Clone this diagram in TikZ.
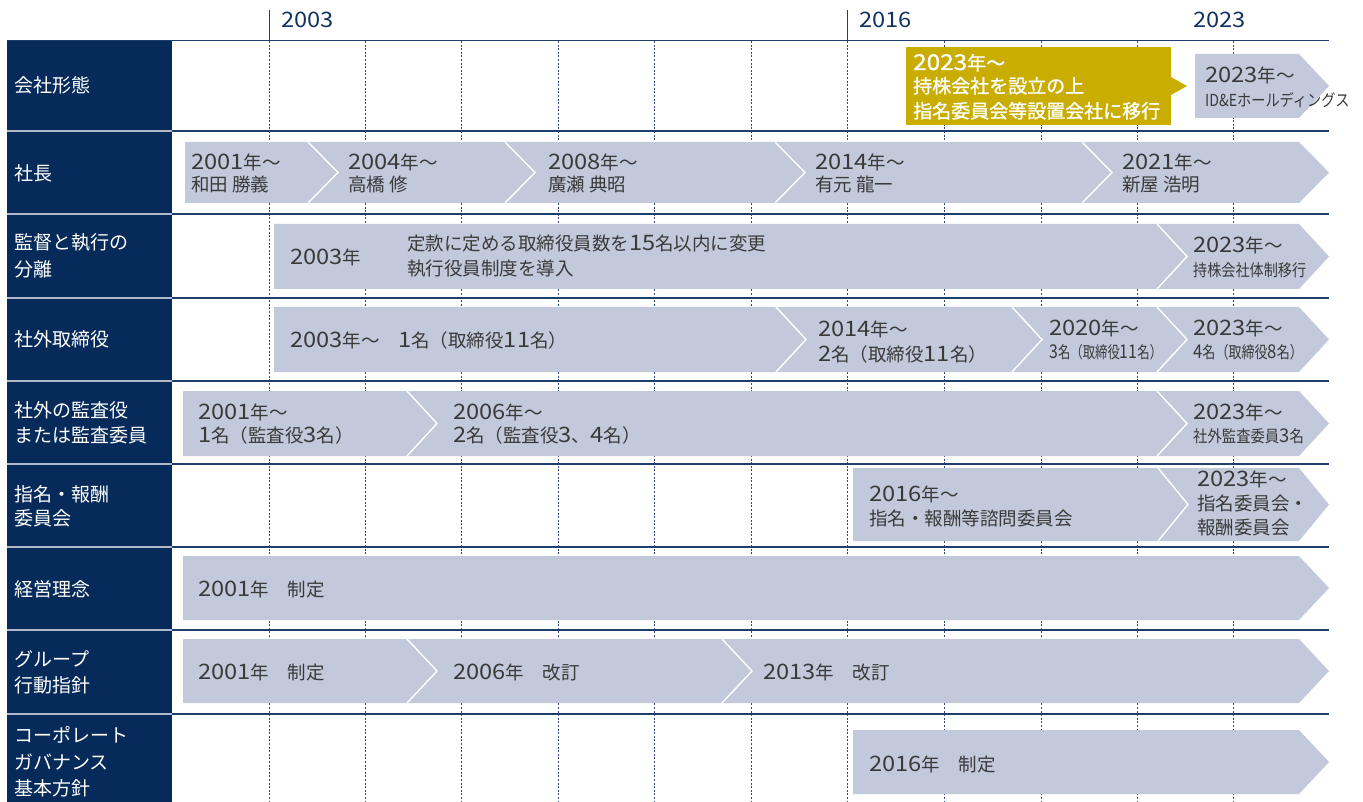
\documentclass[tikz,border=0pt]{standalone}
\usepackage{fontspec}
\setmainfont{Noto Sans CJK JP}
\newfontfamily\yelfont[FakeBold=1.2]{Noto Sans CJK JP}
\usepackage{graphicx}
\definecolor{navy}{RGB}{6,43,90}
\definecolor{gridc}{RGB}{30,62,110}
\definecolor{dashc}{RGB}{45,75,125}
\definecolor{sepc}{RGB}{175,186,204}
\definecolor{chevc}{RGB}{193,201,219}
\definecolor{yelc}{RGB}{201,173,0}
\definecolor{tgray}{RGB}{58,58,58}
\definecolor{ynavy}{RGB}{20,50,95}
\newcommand\dg[1]{\scalebox{1.28}[1.15]{#1}}
\newcommand\cx[2]{\scalebox{#1}[1]{#2}}
\newcommand\chevrow[4]{%
  \fill[chevc] (#1,#2) -- (1299,#2) -- (1329,{(#2+#3)/2}) -- (1299,#3) -- (#1,#3) -- cycle;
  \foreach \c in {#4}{\draw[white,line width=1.4pt] (\c,#2) -- ({\c+30},{(#2+#3)/2}) -- (\c,#3);}%
}
\begin{document}
\begin{tikzpicture}[x=1pt,y=-1pt,
  lbl/.style={anchor=base west, inner sep=0, text=white, font=\fontsize{19}{19}\selectfont},
  txt/.style={anchor=base west, inner sep=0, text=tgray, font=\fontsize{18.5}{18.5}\selectfont},
  sm/.style={anchor=base west, inner sep=0, text=tgray, font=\fontsize{16.5}{16.5}\selectfont},
  yel/.style={anchor=base west, inner sep=0, text=white, font=\fontsize{19}{19}\selectfont\yelfont},
  yr/.style={anchor=base west, inner sep=0, text=ynavy, font=\fontsize{18.5}{18.5}\selectfont},
  dashline/.style={dashc, line width=0.8pt, dash pattern=on 2pt off 1.6pt},
  gline/.style={gridc, line width=1.2pt},
]
\useasboundingbox (0,0) rectangle (1363,802);
\fill[white] (0,0) rectangle (1363,802);
% dashed year lines
\foreach \x in {269,365,461,558,654,751,847,944,1041,1137,1233}
  \draw[dashline] (\x,41) -- (\x,802);
% ticks
\draw[gridc, line width=1pt] (269,10) -- (269,41);
\draw[gridc, line width=1pt] (847,10) -- (847,41);
% grid lines
\draw[gline] (7,40.5) -- (1329,40.5);
\foreach \y in {131,214,298,381,464,547,630,714}
  \draw[gline] (172,\y) -- (1329,\y);
% left column
\fill[navy] (7,41) rectangle (172,802);
\foreach \y in {131,214,298,381,464,547,630,714}
  \draw[sepc, line width=1.6pt] (7,\y) -- (172,\y);
% header years
\node[yr] (h2003) at (281,28) {\dg{2003}};
\node[yr] (h2016) at (859,28) {\dg{2016}};
\node[yr] (h2023) at (1193,28) {\dg{2023}};
% row labels
\node[lbl] (l1) at (14,93) {会社形態};
\node[lbl] (l2) at (14,181) {社長};
\node[lbl] (l3a) at (14,250) {監督と執行の};
\node[lbl] (l3b) at (14,277) {分離};
\node[lbl] (l4) at (14,347) {社外取締役};
\node[lbl] (l5a) at (14,417) {社外の監査役};
\node[lbl] (l5b) at (14,442) {または監査委員};
\node[lbl] (l6a) at (14,501) {指名・報酬};
\node[lbl] (l6b) at (14,525) {委員会};
\node[lbl] (l7) at (14,596) {経営理念};
\node[lbl] (l8a) at (14,666) {グループ};
\node[lbl] (l8b) at (14,692) {行動指針};
\node[lbl] (l9a) at (14,742) {コーポレート};
\node[lbl] (l9b) at (14,769) {ガバナンス};
\node[lbl] (l9c) at (14,795) {基本方針};
% row 1
\fill[yelc] (906,47) rectangle (1171,125);
\fill[yelc] (1171,77) -- (1187,86) -- (1171,95) -- cycle;
\fill[chevc] (1195,54) -- (1299,54) -- (1329,86) -- (1299,118) -- (1195,118) -- cycle;
\node[yel] (y1) at (913,70) {\dg{2023}年～};
\node[yel] (y2) at (913,93) {持株会社を設立の上};
\node[yel] (y3) at (913,118) {指名委員会等設置会社に移行};
\node[txt] (r1a) at (1205,83) {\dg{2023}年～};
\node[sm] (r1b) at (1205,107) {\cx{0.86}{ID\&Eホールディングス}};
% row 2
\chevrow{185}{142}{203}{308,505,775,1082}
\node[txt] (r2a) at (191,170) {\dg{2001}年～};
\node[txt] (r2b) at (191,192) {和田 勝義};
\node[txt] (r2c) at (348,170) {\dg{2004}年～};
\node[txt] (r2d) at (348,192) {高橋 修};
\node[txt] (r2e) at (548,170) {\dg{2008}年～};
\node[txt] (r2f) at (548,192) {廣瀬 典昭};
\node[txt] (r2g) at (815,170) {\dg{2014}年～};
\node[txt] (r2h) at (815,192) {有元 龍一};
\node[txt] (r2i) at (1122,170) {\dg{2021}年～};
\node[txt] (r2j) at (1122,192) {新屋 浩明};
% row 3
\chevrow{274}{224}{289}{1157}
\node[txt] (r3a) at (290,265) {\dg{2003}年};
\node[txt] (r3b) at (407,251) {定款に定める取締役員数を\dg{15}名以内に変更};
\node[txt] (r3c) at (407,276) {執行役員制度を導入};
\node[txt] (r3d) at (1193,253) {\dg{2023}年～};
\node[sm] (r3e) at (1193,277) {\cx{0.856}{持株会社体制移行}};
% row 4
\chevrow{274}{307}{372}{776,1012,1157}
\node[txt] (r4a) at (290,348) {\dg{2003}年～　\dg{1}名（取締役\dg{11}名）};
\node[txt] (r4b) at (818,337) {\dg{2014}年～};
\node[txt] (r4c) at (818,361) {\dg{2}名（取締役\dg{11}名）};
\node[txt] (r4d) at (1049,336) {\dg{2020}年～};
\node[sm] (r4e) at (1049,359) {\cx{0.75}{\dg{3}名（取締役\dg{11}名）}};
\node[txt] (r4f) at (1193,336) {\dg{2023}年～};
\node[sm] (r4g) at (1193,359) {\cx{0.79}{\dg{4}名（取締役\dg{8}名）}};
% row 5
\chevrow{183}{391}{456}{407,1157}
\node[txt] (r5a) at (198,419) {\dg{2001}年～};
\node[txt] (r5b) at (198,442) {\dg{1}名（監査役\dg{3}名）};
\node[txt] (r5c) at (453,419) {\dg{2006}年～};
\node[txt] (r5d) at (453,442) {\dg{2}名（監査役\dg{3}、\dg{4}名）};
\node[txt] (r5e) at (1193,419) {\dg{2023}年～};
\node[sm] (r5f) at (1193,442) {\cx{0.87}{社外監査委員\dg{3}名}};
% row 6
\chevrow{853}{468}{541}{1158}
\node[txt] (r6a) at (869,501) {\dg{2016}年～};
\node[txt] (r6b) at (869,525) {指名・報酬等諮問委員会};
\node[txt] (r6c) at (1197,486) {\dg{2023}年～};
\node[txt] (r6d) at (1197,510) {指名委員会・};
\node[txt] (r6e) at (1197,534) {報酬委員会};
% row 7
\fill[chevc] (183,556) -- (1299,556) -- (1329,588) -- (1299,620) -- (183,620) -- cycle;
\node[txt] (r7a) at (198,596) {\dg{2001}年　制定};
% row 8
\chevrow{183}{639}{703}{407,722}
\node[txt] (r8a) at (198,679) {\dg{2001}年　制定};
\node[txt] (r8b) at (453,679) {\dg{2006}年　改訂};
\node[txt] (r8c) at (763,679) {\dg{2013}年　改訂};
% row 9
\fill[chevc] (853,730) -- (1299,730) -- (1329,762) -- (1299,794) -- (853,794) -- cycle;
\node[txt] (r9a) at (869,771) {\dg{2016}年　制定};
\end{tikzpicture}
\end{document}
